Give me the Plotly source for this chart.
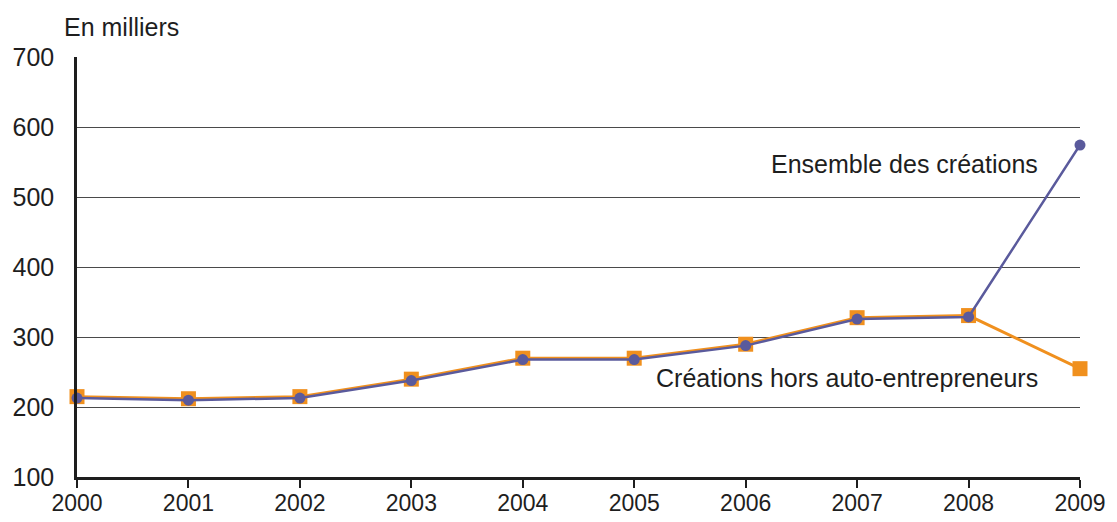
import plotly.graph_objects as go

years = [2000, 2001, 2002, 2003, 2004, 2005, 2006, 2007, 2008, 2009]
ensemble = [213, 210, 213, 238, 268, 268, 288, 326, 329, 575]
hors_ae = [215, 212, 215, 240, 270, 270, 290, 328, 331, 255]

blue = "#5a5a9c"
orange = "#f0901e"
ink = "#1e1e1e"
font = "Liberation Sans, Arial, Helvetica, sans-serif"

fig = go.Figure()
fig.add_trace(go.Scatter(x=years, y=hors_ae, mode="lines+markers",
                         line=dict(color=orange, width=3),
                         marker=dict(symbol="square", size=15, color=orange),
                         name="Créations hors auto-entrepreneurs"))
fig.add_trace(go.Scatter(x=years, y=ensemble, mode="lines+markers",
                         line=dict(color=blue, width=2.5),
                         marker=dict(symbol="circle", size=11, color=blue),
                         name="Ensemble des créations"))

fig.add_annotation(x=2008.64, y=548, xref="x", yref="y", text="Ensemble des créations",
                   showarrow=False, xanchor="right", yanchor="middle",
                   font=dict(size=25, color=ink, family=font))
fig.add_annotation(x=2008.64, y=241, xref="x", yref="y", text="Créations hors auto-entrepreneurs",
                   showarrow=False, xanchor="right", yanchor="middle",
                   font=dict(size=25, color=ink, family=font))
fig.add_annotation(x=0, y=1.0, xref="paper", yref="paper", text="En milliers",
                   showarrow=False, xanchor="left", yanchor="middle", xshift=-15, yshift=30,
                   font=dict(size=25, color=ink, family=font))

# page body has an 8px margin, so the figure is 8px smaller each way
fig.update_layout(
    width=1109, height=514,
    margin=dict(l=69, r=37, t=49, b=45),
    paper_bgcolor="white", plot_bgcolor="white",
    showlegend=False,
    font=dict(family=font, size=25, color=ink),
    xaxis=dict(range=[2000, 2009], tickvals=years, ticks="outside", ticklen=8,
               tickwidth=2, tickcolor=ink, showgrid=False, showline=True, linecolor=ink,
               linewidth=2.5, zeroline=False, ticklabelstandoff=-4, automargin=False,
               ticklabeloverflow="allow", tickfont=dict(size=23, color=ink)),
    yaxis=dict(range=[100, 701], tickvals=[100, 200, 300, 400, 500, 600, 700],
               showgrid=True, gridcolor="#4a4a4a", gridwidth=1.3, showline=True,
               linecolor=ink, linewidth=2.5, zeroline=False, ticks="",
               ticklabelstandoff=15, automargin=False,
               tickfont=dict(size=25, color=ink)),
)
fig.update_traces(cliponaxis=False)

fig.write_html("out.html")
